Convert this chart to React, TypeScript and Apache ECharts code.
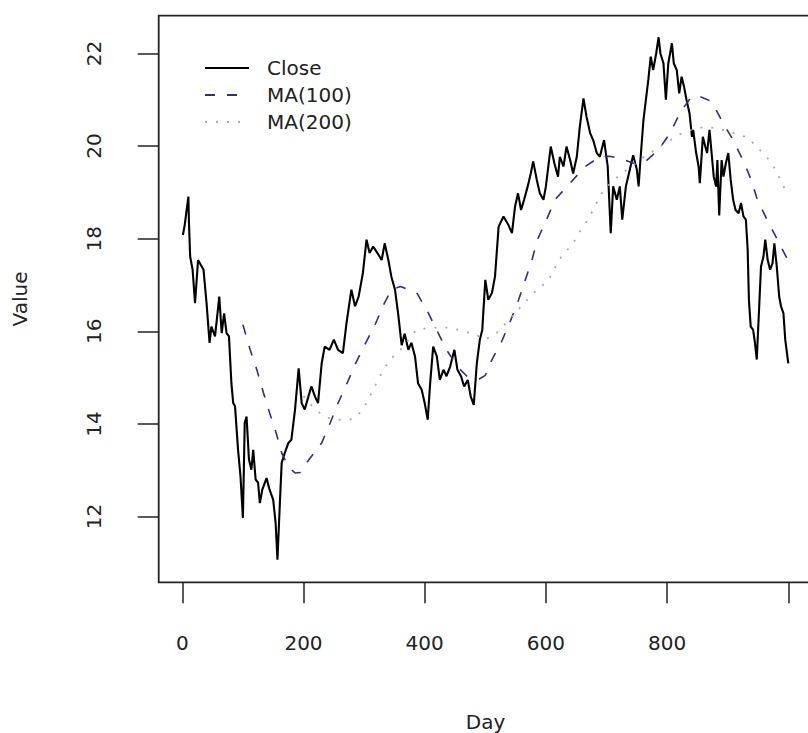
import React, { useEffect, useRef } from "react";
import * as echarts from "echarts";

const closeDays = [
  1, 4, 10, 11, 13, 17, 21, 26, 32, 35, 40, 45, 48, 54, 61, 65, 69, 73, 77, 81,
  84, 87, 92, 96, 100, 103, 106, 110, 114, 117, 121, 125, 128, 132, 139, 144, 150, 154, 157, 161,
  164, 169, 175, 180, 186, 192, 197, 202, 208, 213, 219, 224, 230, 235, 243, 250, 257, 265, 271, 279,
  285, 291, 298, 304, 309, 315, 322, 329, 334, 340, 345, 351, 356, 362, 367, 373, 378, 384, 389, 395,
  400, 405, 409, 414, 420, 425, 431, 436, 442, 449, 454, 460, 465, 471, 476, 481, 486, 491, 495, 500,
  505, 511, 516, 522, 530, 538, 544, 549, 554, 559, 564, 570, 575, 579, 585, 590, 596, 600, 604, 608,
  614, 620, 623, 629, 634, 640, 645, 651, 656, 662, 667, 673, 678, 684, 689, 696, 702, 707, 711, 717,
  722, 726, 732, 737, 744, 750, 753, 756, 761, 765, 769, 773, 777, 782, 786, 789, 794, 798, 802, 808,
  811, 816, 820, 824, 828, 832, 837, 841, 843, 848, 852, 854, 859, 863, 866, 870, 874, 877, 881, 883,
  886, 890, 893, 897, 901, 905, 909, 913, 918, 922, 926, 930, 933, 935, 938, 942, 945, 948, 952, 955,
  959, 962, 966, 970, 974, 977, 981, 985, 988, 992, 995, 1000,
];
const closeValues = [
  18.08, 18.3, 18.91, 18.34, 17.61, 17.33, 16.61, 17.54, 17.4, 17.33, 16.61, 15.75, 16.1, 15.89, 16.75, 15.96, 16.39, 15.96, 15.89, 14.88,
  14.45, 14.38, 13.44, 12.87, 11.97, 14.02, 14.16, 13.23, 13.01, 13.44, 12.8, 12.73, 12.29, 12.58, 12.83, 12.58, 12.36, 11.86, 11.07, 12.29,
  13.16, 13.37, 13.59, 13.66, 14.31, 15.2, 14.45, 14.31, 14.59, 14.81, 14.59, 14.45, 15.31, 15.67, 15.6, 15.82, 15.6, 15.53, 16.18, 16.9,
  16.54, 16.75, 17.26, 17.98, 17.69, 17.83, 17.69, 17.54, 17.9, 17.54, 17.18, 16.9, 16.4, 15.7, 15.95, 15.6, 15.75, 15.46, 14.88, 14.74,
  14.45, 14.09, 14.88, 15.67, 15.46, 14.95, 15.17, 15.03, 15.24, 15.6, 15.17, 15.03, 14.81, 14.95, 14.59, 14.41, 15.31, 15.82, 16.03, 17.11,
  16.68, 16.83, 17.18, 18.26, 18.48, 18.3, 18.12, 18.69, 18.98, 18.62, 18.84, 19.13, 19.41, 19.67, 19.27, 18.98, 18.84, 19.13, 19.56, 19.99,
  19.63, 19.34, 19.77, 19.56, 19.99, 19.7, 19.41, 19.77, 20.42, 21.03, 20.64, 20.28, 20.13, 19.85, 19.77, 20.13, 19.56, 18.12, 19.13, 18.84,
  19.13, 18.41, 19.13, 19.41, 19.8, 19.5, 19.13, 19.7, 20.56, 21.0, 21.43, 21.93, 21.64, 22.0, 22.35, 22.0, 21.79, 21.0, 21.79, 22.22,
  21.79, 21.64, 21.14, 21.5, 21.28, 21.0, 20.71, 20.2, 20.35, 19.85, 19.56, 19.2, 20.2, 19.99, 19.85, 20.35, 19.77, 19.34, 19.13, 19.7,
  18.5, 19.7, 19.34, 19.63, 19.85, 19.27, 18.84, 18.62, 18.55, 18.77, 18.48, 18.41, 17.76, 16.68, 16.1, 16.03, 15.75, 15.39, 16.54, 17.4,
  17.61, 17.98, 17.54, 17.33, 17.47, 17.9, 17.4, 16.75, 16.54, 16.39, 15.82, 15.31,
];

const ma100Days = [
  100, 112, 123, 134, 144, 155, 164, 175, 186, 195, 205, 230, 244, 257, 271, 285, 301, 318, 332, 345,
  360, 387, 405, 420, 436, 455, 470, 490, 500, 511, 527, 541, 555, 566, 577, 586, 601, 615, 637, 665,
  689, 705, 722, 744, 761, 786, 805, 821, 838, 849, 874, 891, 909, 925, 939, 949, 965, 982, 1000,
];
const ma100Values = [
  16.14, 15.6, 15.17, 14.67, 14.24, 13.8, 13.37, 13.08, 12.94, 12.95, 13.16, 13.59, 14.02, 14.45, 14.85, 15.28, 15.71, 16.14, 16.57, 16.9,
  16.97, 16.83, 16.42, 16.02, 15.6, 15.22, 15.03, 14.97, 15.05, 15.39, 15.78, 16.21, 16.68, 17.11, 17.54, 17.98, 18.41, 18.84, 19.16, 19.56,
  19.77, 19.78, 19.74, 19.63, 19.63, 19.92, 20.28, 20.71, 21.03, 21.1, 20.96, 20.53, 20.13, 19.7, 19.27, 18.84, 18.41, 17.98, 17.52,
];

const ma200Days = [
  200, 220, 240, 255, 276, 288, 301, 315, 329, 342, 360, 386, 410, 440, 465, 485, 500, 520, 544, 579,
  604, 620, 630, 643, 654, 665, 678, 690, 710, 735, 760, 790, 820, 850, 880, 905, 920, 934, 950, 962,
  981, 989, 1000,
];
const ma200Values = [
  14.6, 14.3, 14.13, 14.09, 14.09, 14.16, 14.38, 14.74, 15.1, 15.38, 15.6, 16.03, 16.08, 16.08, 16.0, 15.92, 15.82, 15.98, 16.32, 16.82,
  17.1, 17.5, 17.7, 17.85, 18.12, 18.32, 18.62, 18.95, 19.25, 19.5, 19.75, 20.0, 20.25, 20.4, 20.4, 20.3, 20.24, 20.18, 19.95, 19.81,
  19.45, 19.2, 18.95,
];

const xTicks = [0, 200, 400, 600, 800, 1000];
const xTickLabels = [0, 200, 400, 600, 800];
const yTicks = [12, 14, 16, 18, 20, 22];

const FONT = "DejaVu Sans";
const INK = "#222";

function pairs(xs: number[], ys: number[]) {
  return xs.map((x, i) => [x, ys[i]]);
}

export default function App() {
  const ref = useRef<HTMLDivElement>(null);
  useEffect(() => {
    if (!ref.current) return;
    const chart = echarts.init(ref.current, undefined, { renderer: "svg" });
    chart.setOption({
      animation: false,
      backgroundColor: "#fff",
      grid: {
        left: 158.7,
        top: 15.7,
        width: 653.8,
        height: 566.6,
        show: true,
        borderColor: INK,
        borderWidth: 1.8,
        backgroundColor: "transparent",
        containLabel: false,
        outerBoundsMode: "none",
      },
      legend: {
        orient: "vertical",
        left: 199,
        top: 53,
        itemWidth: 44,
        itemHeight: 14,
        itemGap: 7,
        selectedMode: false,
        itemStyle: { opacity: 0 },
        textStyle: {
          fontFamily: FONT,
          fontSize: 20,
          color: INK,
          padding: [0, 0, 0, 13],
        },
        data: ["Close", "MA(100)", "MA(200)"],
      },
      xAxis: {
        type: "value",
        min: -38.96,
        max: 1039.96,
        name: "Day",
        nameLocation: "middle",
        nameGap: 130,
        nameTextStyle: { fontFamily: FONT, fontSize: 20, color: INK },
        axisLine: { show: false, onZero: false },
        axisTick: {
          show: true,
          length: 21,
          inside: false,
          customValues: xTicks,
          lineStyle: { color: INK, width: 1.5 },
        },
        axisLabel: {
          customValues: xTickLabels,
          margin: 51,
          fontFamily: FONT,
          fontSize: 20,
          color: INK,
        },
        splitLine: { show: false },
      },
      yAxis: {
        type: "value",
        min: 10.58,
        max: 22.816,
        name: "Value",
        nameLocation: "middle",
        nameRotate: 90,
        nameGap: 129,
        nameTextStyle: { fontFamily: FONT, fontSize: 20, color: INK },
        axisLine: { show: false, onZero: false },
        axisTick: {
          show: true,
          length: 21,
          inside: false,
          customValues: yTicks,
          lineStyle: { color: INK, width: 1.5 },
        },
        axisLabel: {
          customValues: yTicks,
          rotate: 90,
          margin: 55,
          fontFamily: FONT,
          fontSize: 20,
          color: INK,
        },
        splitLine: { show: false },
      },
      series: [
        {
          name: "Close",
          type: "line",
          data: pairs(closeDays, closeValues),
          showSymbol: false,
          symbol: "none",
          lineStyle: { color: "#000", width: 2.1 },
          itemStyle: { color: "#000" },
        },
        {
          name: "MA(100)",
          type: "line",
          data: pairs(ma100Days, ma100Values),
          showSymbol: false,
          symbol: "none",
          lineStyle: { color: "#2e2e8c", width: 1.6, type: [10, 12] },
          itemStyle: { color: "#2e2e8c" },
        },
        {
          name: "MA(200)",
          type: "line",
          data: pairs(ma200Days, ma200Values),
          showSymbol: false,
          symbol: "none",
          lineStyle: { color: "#a3a6c8", width: 1.8, type: [2, 9] },
          itemStyle: { color: "#a3a6c8" },
        },
      ],
    });
    return () => chart.dispose();
  }, []);
  return (
    <div
      style={{
        position: "fixed",
        left: 0,
        top: 0,
        width: 808,
        height: 733,
        overflow: "hidden",
        background: "#fff",
      }}
    >
      <div ref={ref} style={{ width: 830, height: 733 }} />
    </div>
  );
}
